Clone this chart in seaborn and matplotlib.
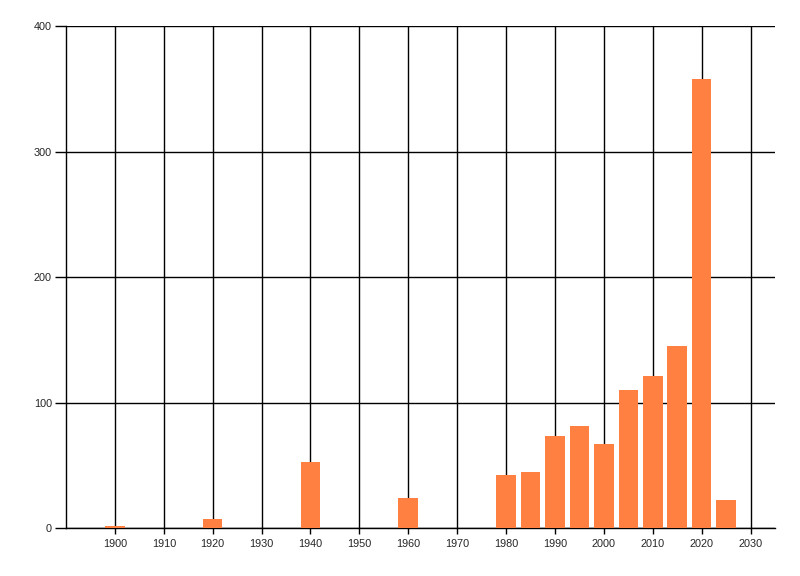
import matplotlib
matplotlib.use("Agg")
import matplotlib.pyplot as plt
import seaborn as sns
import pandas as pd

years = [1900, 1920, 1940, 1960, 1980, 1985, 1990, 1995, 2000, 2005, 2010, 2015, 2020, 2025]
counts = [1.5, 7, 52.5, 24, 42, 44.5, 73, 81, 67, 110, 121, 145, 358, 22]
x_ticks = list(range(1900, 2031, 10))
y_ticks = [0, 100, 200, 300, 400]

sns.set_style("white")
plt.rcParams['font.family'] = ['Liberation Sans', 'DejaVu Sans']

df = pd.DataFrame({"year": years, "count": counts})

fig = plt.figure(figsize=(8, 5.76), dpi=100)
ax = fig.add_axes([66/800, 1 - 528/576, (775 - 66)/800, (528 - 26.3)/576])

sns.barplot(data=df, x="year", y="count", native_scale=True, width=0.8,
            color="#FF8040", saturation=1, linewidth=0, ax=ax, zorder=3)

ax.set_xlim(1890, 2035)
ax.set_ylim(0, 400)
ax.set_xticks(x_ticks)
ax.set_yticks(y_ticks)
ax.set_xticklabels([str(t) for t in x_ticks])
ax.set_yticklabels([str(t) for t in y_ticks])
ax.set_xlabel("")
ax.set_ylabel("")

ax.grid(True, color="black", linewidth=1, zorder=0)
ax.set_axisbelow(True)
for s in ["top", "right"]:
    ax.spines[s].set_visible(False)
for s in ["left", "bottom"]:
    ax.spines[s].set_color("black")
    ax.spines[s].set_linewidth(1)

ax.tick_params(axis="y", length=8, width=1, color="black", labelsize=7.8, pad=2.2, left=True)
ax.tick_params(axis="x", length=4, width=1, color="black", labelsize=7.8, pad=4, bottom=True)

fig.savefig("out.png", dpi=100)
